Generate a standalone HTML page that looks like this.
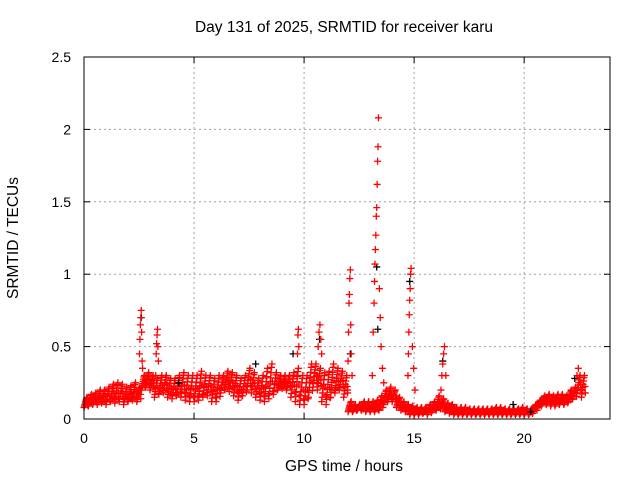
<!DOCTYPE html>
<html><head><meta charset="utf-8"><style>
body{margin:0;background:#fff}
svg{display:block;font-family:"Liberation Sans",sans-serif}
</style></head><body>
<svg id="chart" width="640" height="480" viewBox="0 0 640 480">
<text x="344" y="32" font-size="15.5" text-anchor="middle">Day 131 of 2025, SRMTID for receiver karu</text>
<text x="344" y="471" font-size="15.5" text-anchor="middle">GPS time / hours</text>
<text x="18" y="238" font-size="15.5" text-anchor="middle" transform="rotate(-90 18 238)">SRMTID / TECUs</text>
<g id="grid"></g>
<g id="ticks"></g>
<g id="points"></g>
<rect x="84" y="57" width="526" height="362" fill="none" stroke="#000" stroke-width="1"/>
</svg>
<script>
const xTicks=[0,5,10,15,20];
const yTicks=[0,0.5,1,1.5,2,2.5];
const yTickLabels=["0","0.5","1","1.5","2","2.5"];
const baseStart=0, baseStep=0.2;
const lowVals=[0.08,0.09,0.1,0.1,0.11,0.1,0.12,0.11,0.12,0.1,0.12,0.13,0.12,0.2,0.22,0.2,0.15,0.17,0.18,0.15,0.14,0.16,0.15,0.13,0.12,0.12,0.13,0.15,0.16,0.12,0.12,0.18,0.2,0.19,0.16,0.13,0.16,0.2,0.18,0.15,0.13,0.12,0.14,0.17,0.2,0.21,0.2,0.15,0.12,0.1,0.1,0.15,0.22,0.2,0.12,0.1,0.15,0.18,0.2,0.15,0.05,0.05,0.06,0.06,0.05,0.05,0.05,0.06,0.1,0.12,0.12,0.08,0.06,0.05,0.03,0.03,0.03,0.04,0.03,0.05,0.06,0.07,0.05,0.04,0.03,0.03,0.03,0.03,0.03,0.03,0.03,0.03,0.03,0.03,0.03,0.03,0.03,0.03,0.03,0.03,0.03,0.03,0.05,0.08,0.1,0.1,0.09,0.09,0.1,0.1,0.12,0.14,0.18,0.15];
const highVals=[0.15,0.17,0.18,0.2,0.2,0.22,0.24,0.25,0.24,0.22,0.23,0.25,0.22,0.3,0.32,0.3,0.28,0.3,0.3,0.28,0.28,0.3,0.32,0.3,0.3,0.3,0.33,0.3,0.3,0.28,0.3,0.3,0.33,0.32,0.3,0.28,0.3,0.35,0.32,0.28,0.3,0.35,0.38,0.32,0.3,0.3,0.3,0.32,0.35,0.3,0.3,0.38,0.38,0.35,0.32,0.33,0.38,0.35,0.33,0.3,0.12,0.1,0.1,0.12,0.12,0.12,0.13,0.16,0.2,0.22,0.2,0.15,0.12,0.1,0.09,0.08,0.08,0.08,0.1,0.12,0.16,0.14,0.11,0.1,0.08,0.08,0.08,0.07,0.07,0.07,0.07,0.07,0.07,0.08,0.08,0.07,0.07,0.07,0.07,0.08,0.07,0.07,0.1,0.13,0.16,0.17,0.16,0.17,0.17,0.16,0.2,0.22,0.3,0.3];
const spikeTimes=[2.52,2.54,2.56,2.58,2.6,2.62,2.64,2.66,3.26,3.28,3.3,3.32,3.34,3.36,3.38,9.68,9.7,9.72,9.74,9.76,10.6,10.64,10.68,10.72,10.76,10.8,11.98,12.0,12.02,12.04,12.06,12.08,12.1,12.12,12.14,12.18,13.1,13.14,13.18,13.2,13.22,13.24,13.26,13.28,13.3,13.32,13.34,13.36,13.38,13.42,13.46,13.5,13.56,13.62,14.72,14.74,14.76,14.78,14.8,14.82,14.84,14.86,14.92,14.98,15.04,16.22,16.26,16.3,16.34,16.38,16.44,22.4,22.46];
const spikeVals=[0.45,0.55,0.65,0.7,0.75,0.6,0.4,0.35,0.3,0.45,0.52,0.58,0.62,0.5,0.4,0.3,0.45,0.58,0.62,0.5,0.3,0.5,0.6,0.65,0.55,0.45,0.2,0.4,0.6,0.8,0.86,0.97,1.03,0.65,0.45,0.3,0.3,0.6,0.8,0.95,1.07,1.17,1.27,1.4,1.46,1.62,1.78,1.88,2.08,0.9,0.7,0.5,0.35,0.25,0.3,0.45,0.6,0.72,0.82,0.9,1.0,1.04,0.5,0.35,0.2,0.2,0.3,0.38,0.45,0.5,0.3,0.3,0.35];
const blackTimes=[2.6,4.3,7.8,9.5,10.7,12.1,13.3,13.35,14.8,16.3,19.5,20.3,22.3];
const blackVals=[0.7,0.25,0.38,0.45,0.55,0.45,1.05,0.62,0.95,0.4,0.1,0.05,0.28];

const X0=84,X1=610,Y0=419,Y1=57,XMAX=23.9,YMAX=2.5;
const xs=v=>X0+v/XMAX*(X1-X0);
const ys=v=>Y0-v/YMAX*(Y0-Y1);
const NS="http://www.w3.org/2000/svg";
const mk=(t,a,p)=>{const e=document.createElementNS(NS,t);for(const k in a)e.setAttribute(k,a[k]);p.appendChild(e);return e;};
const grid=document.getElementById('grid'),ticks=document.getElementById('ticks'),pts=document.getElementById('points');
xTicks.forEach((t,i)=>{const x=xs(t);
 if(i>0){const g=mk('line',{x1:x,x2:x,y1:Y1,y2:Y0,stroke:'#a0a0a0','stroke-dasharray':'2,3'},grid);
 
 }
 const l=mk('text',{x:x,y:443,'font-size':14,'text-anchor':'middle'},ticks);l.textContent=String(t);
 
 
 mk('line',{x1:x,x2:x,y1:Y0,y2:Y0-6,stroke:'#000'},ticks);mk('line',{x1:x,x2:x,y1:Y1,y2:Y1+6,stroke:'#000'},ticks);});
yTicks.forEach((t,i)=>{const y=ys(t);
 if(i>0&&i<yTicks.length-1){const g=mk('line',{x1:X0,x2:X1,y1:y,y2:y,stroke:'#a0a0a0','stroke-dasharray':'2,3'},grid);
 
 }
 const l=mk('text',{x:71,y:y+5,'font-size':14,'text-anchor':'end'},ticks);l.textContent=yTickLabels[i];
 
 
 mk('line',{x1:X0,x2:X0+6,y1:y,y2:y,stroke:'#000'},ticks);mk('line',{x1:X1,x2:X1-6,y1:y,y2:y,stroke:'#000'},ticks);});
function plus(t,v,c){const x=xs(t),y=ys(v);
 const p=mk('path',{d:`M${x-3.5},${y}h7M${x},${y-3.5}v7`,stroke:c,'stroke-width':1.3,fill:'none'},pts);
 
 }
const fr=[0,0.15,0.3,0.45,0.6,0.75,0.9,1,0.5,0.2];
for(let i=0;i<lowVals.length;i++){const t=baseStart+i*baseStep;
 const lo=lowVals[i],hi=highVals[i];
 fr.forEach((f,k)=>plus(t+k*0.02,lo+(hi-lo)*f,'#f00'));}
blackTimes.forEach((t,i)=>plus(t,blackVals[i],'#000'));
spikeTimes.forEach((t,i)=>plus(t,spikeVals[i],'#f00'));
</script>
</body></html>
